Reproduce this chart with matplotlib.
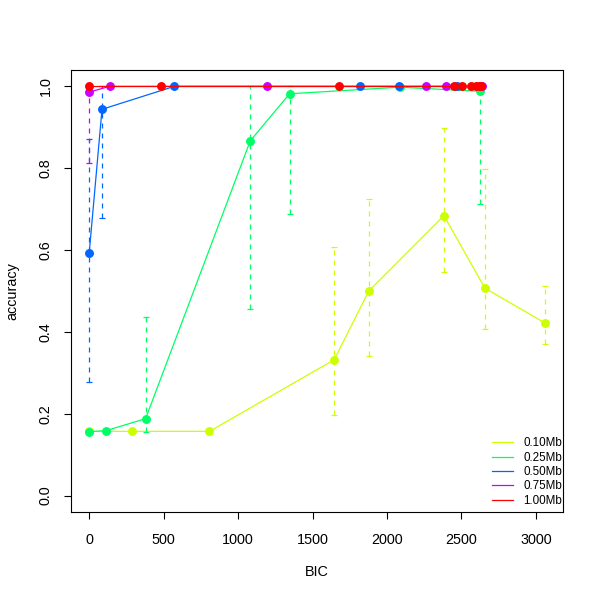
import numpy as np
import matplotlib
matplotlib.use("Agg")
import matplotlib.pyplot as plt

plt.rcParams['font.family'] = ['Liberation Sans', 'DejaVu Sans']

# window sizes and their colours (R rainbow(5))
labels = ["0.10Mb", "0.25Mb", "0.50Mb", "0.75Mb", "1.00Mb"]
colors = ["#CCFF00", "#00FF66", "#0066FF", "#CC00FF", "#FF0000"]

nan = np.nan

# 0.10Mb
bic_010 = [0, 287, 808, 1646, 1878, 2383, 2658, 3060]
acc_010 = [0.157, 0.157, 0.157, 0.332, 0.500, 0.684, 0.507, 0.422]
lo_010 = [nan, nan, nan, 0.197, 0.341, 0.546, 0.406, 0.371]
hi_010 = [nan, nan, nan, 0.608, 0.726, 0.898, 0.797, 0.513]

# 0.25Mb
bic_025 = [0, 115, 379, 1082, 1346, 2085, 2622]
acc_025 = [0.156, 0.159, 0.188, 0.867, 0.982, 0.998, 0.988]
lo_025 = [nan, nan, 0.156, 0.457, 0.688, nan, 0.712]
hi_025 = [nan, nan, 0.436, 1.0, 1.0, nan, 1.0]

# 0.50Mb
bic_050 = [0, 86, 571, 1817, 2079, 2470]
acc_050 = [0.593, 0.944, 1.0, 1.0, 1.0, 1.0]
lo_050 = [0.278, 0.679, nan, nan, nan, nan]
hi_050 = [0.871, 1.0, nan, nan, nan, nan]

# 0.75Mb
bic_075 = [0, 137, 1196, 2262, 2396, 2640]
acc_075 = [0.986, 1.0, 1.0, 1.0, 1.0, 1.0]
lo_075 = [0.814, nan, nan, nan, nan, nan]
hi_075 = [1.0, nan, nan, nan, nan, nan]

# 1.00Mb
bic_100 = [0, 484, 1677, 2450, 2506, 2566, 2600, 2617, 2630]
acc_100 = [1.0, 1.0, 1.0, 1.0, 1.0, 1.0, 1.0, 1.0, 1.0]
lo_100 = [nan] * 9
hi_100 = [nan] * 9

series = [
    (bic_010, acc_010, lo_010, hi_010),
    (bic_025, acc_025, lo_025, hi_025),
    (bic_050, acc_050, lo_050, hi_050),
    (bic_075, acc_075, lo_075, hi_075),
    (bic_100, acc_100, lo_100, hi_100),
]

fig = plt.figure(figsize=(6, 6), dpi=100)
ax = fig.add_axes([0.1183, 0.1467, 0.82, 0.7366])

z = 2
for (x, y, lo, hi), col, lab in zip(series, colors, labels):
    x = np.asarray(x, float)
    y = np.asarray(y, float)
    lo = np.asarray(lo, float)
    hi = np.asarray(hi, float)
    ax.plot(x, y, color=col, lw=0.9, label=lab, zorder=z)
    m = ~np.isnan(lo)
    if m.any():
        eb = ax.errorbar(x[m], y[m], yerr=[y[m] - lo[m], hi[m] - y[m]], fmt="none",
                         ecolor=col, elinewidth=0.9, capsize=2.5, capthick=0.9, zorder=z)
        eb[2][0].set_linestyle((0, (4, 4)))
    ax.plot(x, y, "o", color=col, ms=5.4, mec=col, zorder=z + 0.5)
    z += 1

# R style axis range: data range extended by 4%
allx = np.concatenate([s[0] for s in series])
xr = allx.max() - allx.min()
ax.set_xlim(allx.min() - 0.04 * xr, allx.max() + 0.04 * xr)
ax.set_ylim(-0.04, 1.04)

ax.set_xticks([0, 500, 1000, 1500, 2000, 2500, 3000])
ax.set_yticks([0.0, 0.2, 0.4, 0.6, 0.8, 1.0])
ax.set_yticklabels(["0.0", "0.2", "0.4", "0.6", "0.8", "1.0"], rotation=90, va="center")
ax.tick_params(direction="out", length=5, width=0.8, labelsize=10.4, pad=8)
ax.tick_params(axis="x", pad=10)
for sp in ax.spines.values():
    sp.set_linewidth(0.8)

ax.set_xlabel("BIC", fontsize=10.4, labelpad=13)
ax.set_ylabel("accuracy", fontsize=10.4, labelpad=14)

ax.legend(loc="lower right", bbox_to_anchor=(0.998, 0.012), frameon=False, fontsize=8.4,
          handlelength=1.8, handletextpad=0.85, labelspacing=0.2, borderpad=0,
          borderaxespad=0)

fig.savefig("out.png", dpi=100)
